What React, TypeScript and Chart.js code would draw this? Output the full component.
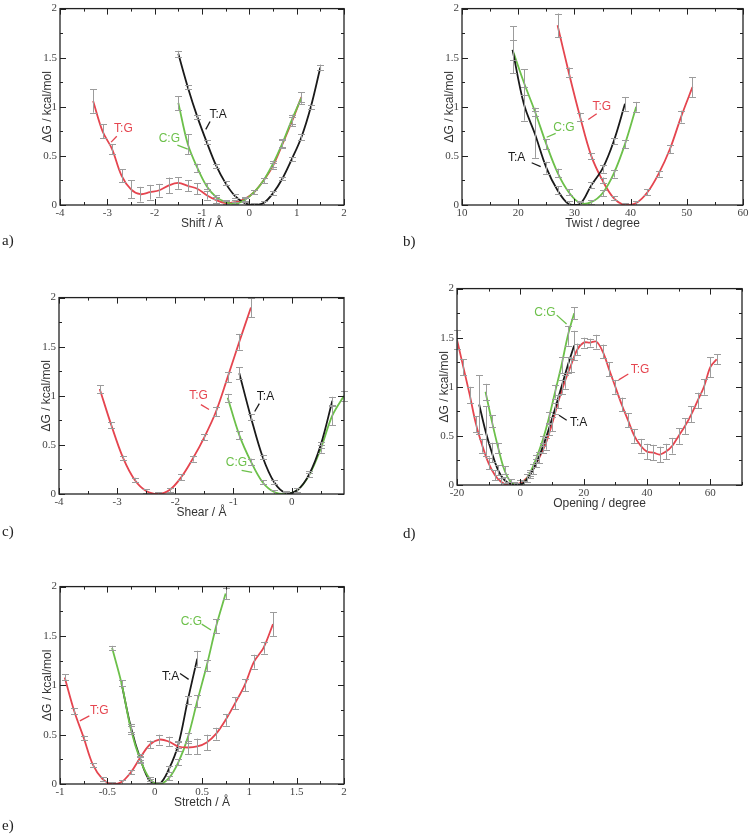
import React, { useEffect, useRef } from 'react';
import { Chart, registerables } from 'chart.js';

Chart.register(...registerables);

// ---------------- data ----------------
const yTicks = [0, 0.5, 1, 1.5, 2];
const aXTicks = [-4, -3, -2, -1, 0, 1, 2];
const bXTicks = [10, 20, 30, 40, 50, 60];
const cXTicks = [-4, -3, -2, -1, 0];
const dXTicks = [-20, 0, 20, 40, 60];
const eXTicks = [-1, -0.5, 0, 0.5, 1, 1.5, 2];

// a) Shift
const aTGx = [-3.3, -3.1, -2.9, -2.7, -2.5, -2.3, -2.1, -1.9, -1.7, -1.5, -1.3, -1.1, -0.9, -0.7, -0.5, -0.3, -0.1, 0.1, 0.3, 0.5, 0.7, 0.9, 1.1];
const aTGy = [1.06, 0.75, 0.57, 0.3, 0.16, 0.11, 0.13, 0.15, 0.2, 0.225, 0.195, 0.165, 0.1, 0.05, 0.02, 0.03, 0.06, 0.13, 0.25, 0.4, 0.62, 0.85, 1.1];
const aTGe = [0.12, 0.07, 0.05, 0.065, 0.09, 0.075, 0.075, 0.065, 0.08, 0.06, 0.055, 0.055, 0.045, 0.03, 0.02, 0.02, 0.02, 0.02, 0.03, 0.03, 0.04, 0.05, 0.05];
const aCGx = [-1.5, -1.3, -1.1, -0.9, -0.7, -0.5, -0.3, -0.1, 0.1, 0.3, 0.5, 0.7, 0.9, 1.1];
const aCGy = [1.04, 0.62, 0.38, 0.19, 0.08, 0.03, 0.01, 0.05, 0.13, 0.25, 0.42, 0.63, 0.87, 1.09];
const aCGe = [0.07, 0.1, 0.04, 0.03, 0.02, 0.02, 0.02, 0.02, 0.02, 0.03, 0.03, 0.04, 0.05, 0.06];
const aTAx = [-1.5, -1.3, -1.1, -0.9, -0.7, -0.5, -0.3, -0.1, 0.1, 0.3, 0.5, 0.7, 0.9, 1.1, 1.3, 1.5];
const aTAy = [1.54, 1.2, 0.9, 0.64, 0.4, 0.22, 0.09, 0.02, 0.0, 0.02, 0.12, 0.27, 0.47, 0.69, 1.0, 1.4];
const aTAe = [0.03, 0.02, 0.02, 0.02, 0.02, 0.02, 0.02, 0.02, 0.02, 0.02, 0.02, 0.02, 0.02, 0.03, 0.02, 0.03];

// b) Twist
const bTAx = [19, 21, 23, 25, 27, 29, 31, 33, 35, 37, 39];
const bTAy = [1.58, 1.03, 0.72, 0.38, 0.15, 0.01, 0.01, 0.2, 0.37, 0.65, 1.03];
const bTAe = [0.24, 0.17, 0.24, 0.06, 0.04, 0.03, 0.02, 0.03, 0.04, 0.03, 0.07];
const bCGx = [19, 21, 23, 25, 27, 29, 31, 33, 35, 37, 39, 41];
const bCGy = [1.58, 1.25, 0.95, 0.62, 0.33, 0.13, 0.02, 0.03, 0.12, 0.32, 0.62, 1.0];
const bCGe = [0.1, 0.13, 0.04, 0.05, 0.04, 0.03, 0.02, 0.02, 0.03, 0.04, 0.04, 0.05];
const bTGx = [27, 29, 31, 33, 35, 37, 39, 41, 43, 45, 47, 49, 51];
const bTGy = [1.83, 1.35, 0.9, 0.5, 0.25, 0.07, 0.0, 0.02, 0.13, 0.32, 0.57, 0.9, 1.2];
const bTGe = [0.12, 0.05, 0.04, 0.03, 0.03, 0.02, 0.02, 0.02, 0.03, 0.03, 0.04, 0.06, 0.1];

// c) Shear
const cTGx = [-3.3, -3.1, -2.9, -2.7, -2.5, -2.3, -2.1, -1.9, -1.7, -1.5, -1.3, -1.1, -0.9, -0.7];
const cTGy = [1.07, 0.7, 0.37, 0.145, 0.03, 0.0, 0.04, 0.17, 0.36, 0.58, 0.84, 1.19, 1.55, 1.9];
const cTGe = [0.04, 0.03, 0.02, 0.02, 0.02, 0.02, 0.02, 0.03, 0.03, 0.03, 0.05, 0.05, 0.08, 0.1];
const cTAx = [-0.9, -0.7, -0.5, -0.3, -0.1, 0.1, 0.3, 0.5, 0.7];
const cTAy = [1.23, 0.78, 0.38, 0.12, 0.01, 0.04, 0.2, 0.5, 0.95];
const cTAe = [0.06, 0.03, 0.02, 0.02, 0.02, 0.02, 0.03, 0.03, 0.04];
const cCGx = [-1.1, -0.9, -0.7, -0.5, -0.3, -0.1, 0.1, 0.3, 0.5, 0.7, 0.9];
const cCGy = [0.98, 0.6, 0.33, 0.12, 0.02, 0.0, 0.04, 0.19, 0.46, 0.8, 1.0];
const cCGe = [0.04, 0.04, 0.03, 0.02, 0.02, 0.02, 0.02, 0.02, 0.04, 0.1, 0.05];

// d) Opening
const dTGx = [-20, -18, -16, -14, -12, -10, -8, -6, -4, -2, 0, 2, 4, 6, 8, 10, 12, 14, 16, 18, 20, 22, 24, 26, 28, 30, 32, 34, 36, 38, 40, 42, 44, 46, 48, 50, 52, 54, 56, 58, 60, 62];
const dTGy = [1.48, 1.2, 0.92, 0.62, 0.4, 0.22, 0.1, 0.03, 0.0, 0.0, 0.02, 0.07, 0.16, 0.28, 0.42, 0.62, 0.85, 1.05, 1.22, 1.38, 1.45, 1.45, 1.46, 1.36, 1.18, 1.0, 0.82, 0.66, 0.5, 0.4, 0.34, 0.33, 0.31, 0.34, 0.4, 0.5, 0.6, 0.72, 0.86, 1.0, 1.2, 1.28];
const dTGe = [0.1, 0.08, 0.08, 0.08, 0.07, 0.06, 0.05, 0.04, 0.03, 0.03, 0.03, 0.04, 0.05, 0.06, 0.06, 0.07, 0.07, 0.07, 0.07, 0.06, 0.05, 0.04, 0.07, 0.07, 0.07, 0.07, 0.07, 0.07, 0.07, 0.07, 0.08, 0.08, 0.08, 0.08, 0.08, 0.08, 0.08, 0.08, 0.08, 0.08, 0.1, 0.05];
const dTAx = [-13, -11, -9, -7, -5, -3, -1, 1, 3, 5, 7, 9, 11, 13, 15, 17];
const dTAy = [0.82, 0.55, 0.33, 0.15, 0.05, 0.01, 0.0, 0.02, 0.1, 0.22, 0.38, 0.57, 0.78, 1.0, 1.22, 1.42];
const dTAe = [0.3, 0.25, 0.1, 0.05, 0.03, 0.02, 0.02, 0.02, 0.03, 0.04, 0.05, 0.06, 0.06, 0.07, 0.08, 0.15];
const dCGx = [-11, -9, -7, -5, -3, -1, 1, 3, 5, 7, 9, 11, 13, 15, 17];
const dCGy = [0.95, 0.65, 0.38, 0.15, 0.03, 0.0, 0.02, 0.12, 0.27, 0.45, 0.68, 0.95, 1.22, 1.52, 1.75];
const dCGe = [0.08, 0.06, 0.05, 0.04, 0.03, 0.02, 0.02, 0.03, 0.04, 0.05, 0.06, 0.07, 0.08, 0.1, 0.06];

// e) Stretch
const eTGx = [-0.95, -0.85, -0.75, -0.65, -0.55, -0.45, -0.35, -0.25, -0.15, -0.05, 0.05, 0.15, 0.25, 0.35, 0.45, 0.55, 0.65, 0.75, 0.85, 0.95, 1.05, 1.15, 1.25];
const eTGy = [1.08, 0.74, 0.47, 0.19, 0.05, 0.0, 0.02, 0.12, 0.27, 0.4, 0.45, 0.43, 0.38, 0.37, 0.38, 0.42, 0.51, 0.65, 0.82, 1.0, 1.24, 1.38, 1.62];
const eTGe = [0.03, 0.03, 0.02, 0.02, 0.02, 0.02, 0.02, 0.02, 0.03, 0.04, 0.05, 0.05, 0.05, 0.07, 0.08, 0.08, 0.06, 0.06, 0.06, 0.06, 0.07, 0.06, 0.12];
const eCGx = [-0.45, -0.35, -0.25, -0.15, -0.05, 0.05, 0.15, 0.25, 0.35, 0.45, 0.55, 0.65, 0.75];
const eCGy = [1.38, 1.02, 0.55, 0.24, 0.05, 0.0, 0.06, 0.22, 0.47, 0.84, 1.2, 1.6, 1.93];
const eCGe = [0.02, 0.03, 0.04, 0.03, 0.02, 0.02, 0.02, 0.03, 0.05, 0.06, 0.06, 0.07, 0.06];
const eTAx = [-0.35, -0.25, -0.15, -0.05, 0.05, 0.15, 0.25, 0.35, 0.45];
const eTAy = [1.02, 0.57, 0.25, 0.03, 0.0, 0.15, 0.4, 0.85, 1.27];
const eTAe = [0.03, 0.04, 0.03, 0.02, 0.02, 0.03, 0.04, 0.04, 0.08];

// ---------------- styles ----------------
const RED = '#e5454f';
const GREEN = '#6cc04a';
const BLACK = '#1a1a1a';
const ERRC = '#9c9c9c';
const SERIF = '"Liberation Serif", "DejaVu Serif", serif';
const SANS = '"Liberation Sans", Arial, sans-serif';

type Series = { color: string; x: number[]; y: number[]; e: number[] };
type Note = { text: string; color: string; x: number; y: number; l: [number, number, number, number] };
type PanelDef = {
  tag: string;
  tagPos: [number, number];
  box: [number, number, number, number];
  xTitle: string;
  xMin: number;
  xMax: number;
  xTicks: number[];
  series: Series[];
  notes: Note[];
};

const panels: PanelDef[] = [
  {
    tag: 'a)', tagPos: [2, 240], box: [60, 7, 344, 205], xTitle: 'Shift / Å', xMin: -4, xMax: 2, xTicks: aXTicks,
    series: [
      { color: GREEN, x: aCGx, y: aCGy, e: aCGe },
      { color: BLACK, x: aTAx, y: aTAy, e: aTAe },
      { color: RED, x: aTGx, y: aTGy, e: aTGe },
    ],
    notes: [
      { text: 'T:G', color: RED, x: -2.66, y: 0.78, l: [-2.8, 0.7, -2.92, 0.64] },
      { text: 'C:G', color: GREEN, x: -1.69, y: 0.68, l: [-1.52, 0.61, -1.3, 0.57] },
      { text: 'T:A', color: BLACK, x: -0.66, y: 0.92, l: [-0.83, 0.85, -0.92, 0.77] },
    ],
  },
  {
    tag: 'b)', tagPos: [403, 241], box: [462, 7, 743, 205], xTitle: 'Twist / degree', xMin: 10, xMax: 60, xTicks: bXTicks,
    series: [
      { color: BLACK, x: bTAx, y: bTAy, e: bTAe },
      { color: GREEN, x: bCGx, y: bCGy, e: bCGe },
      { color: RED, x: bTGx, y: bTGy, e: bTGe },
    ],
    notes: [
      { text: 'T:G', color: RED, x: 34.86, y: 1.0, l: [33.97, 0.93, 32.47, 0.87] },
      { text: 'C:G', color: GREEN, x: 28.15, y: 0.79, l: [26.67, 0.73, 25.07, 0.69] },
      { text: 'T:A', color: BLACK, x: 19.73, y: 0.48, l: [22.4, 0.43, 24.0, 0.39] },
    ],
  },
  {
    tag: 'c)', tagPos: [2, 531], box: [59, 296, 344, 494], xTitle: 'Shear / Å', xMin: -4, xMax: 0.9, xTicks: cXTicks,
    series: [
      { color: RED, x: cTGx, y: cTGy, e: cTGe },
      { color: BLACK, x: cTAx, y: cTAy, e: cTAe },
      { color: GREEN, x: cCGx, y: cCGy, e: cCGe },
    ],
    notes: [
      { text: 'T:G', color: RED, x: -1.6, y: 1.0, l: [-1.56, 0.91, -1.42, 0.86] },
      { text: 'T:A', color: BLACK, x: -0.45, y: 0.99, l: [-0.556, 0.92, -0.635, 0.84] },
      { text: 'C:G', color: GREEN, x: -0.95, y: 0.32, l: [-0.86, 0.24, -0.68, 0.22] },
    ],
  },
  {
    tag: 'd)', tagPos: [403, 533], box: [457, 287, 742, 485], xTitle: 'Opening / degree', xMin: -20, xMax: 70, xTicks: dXTicks,
    series: [
      { color: BLACK, x: dTAx, y: dTAy, e: dTAe },
      { color: GREEN, x: dCGx, y: dCGy, e: dCGe },
      { color: RED, x: dTGx, y: dTGy, e: dTGe },
    ],
    notes: [
      { text: 'C:G', color: GREEN, x: 7.8, y: 1.75, l: [11.5, 1.73, 14.6, 1.64] },
      { text: 'T:G', color: RED, x: 37.8, y: 1.17, l: [34.1, 1.13, 31.06, 1.07] },
      { text: 'T:A', color: BLACK, x: 18.4, y: 0.63, l: [14.64, 0.66, 12.2, 0.71] },
    ],
  },
  {
    tag: 'e)', tagPos: [2, 825], box: [60, 585, 344, 784], xTitle: 'Stretch / Å', xMin: -1, xMax: 2, xTicks: eXTicks,
    series: [
      { color: RED, x: eTGx, y: eTGy, e: eTGe },
      { color: GREEN, x: eCGx, y: eCGy, e: eCGe },
      { color: BLACK, x: eTAx, y: eTAy, e: eTAe },
    ],
    notes: [
      { text: 'T:G', color: RED, x: -0.585, y: 0.74, l: [-0.69, 0.69, -0.79, 0.64] },
      { text: 'C:G', color: GREEN, x: 0.387, y: 1.645, l: [0.497, 1.62, 0.595, 1.56] },
      { text: 'T:A', color: BLACK, x: 0.169, y: 1.09, l: [0.268, 1.12, 0.359, 1.06] },
    ],
  },
];

const PAD_L = 50;
const PAD_T = 8;
const PAD_R = 8;
const PAD_B = 40;

function fmt(v: number): string {
  return String(Math.round(v * 100) / 100);
}

function PanelChart({ p }: { p: PanelDef }) {
  const ref = useRef<HTMLCanvasElement | null>(null);
  const [L, T, R, B] = p.box;
  const w = R - L + PAD_L + PAD_R;
  const h = B - T + PAD_T + PAD_B;

  useEffect(() => {
    if (!ref.current) return;
    const deco = {
      id: 'deco' + p.tag,
      afterDatasetsDraw(chart: any) {
        const ctx = chart.ctx as CanvasRenderingContext2D;
        const xs = chart.scales.x;
        const ys = chart.scales.y;
        const { left, right, top, bottom } = chart.chartArea;
        ctx.save();
        // error bars
        ctx.strokeStyle = ERRC;
        ctx.lineWidth = 1;
        p.series.forEach((s) => {
          s.x.forEach((xv, i) => {
            const px = Math.round(xs.getPixelForValue(xv)) + 0.5;
            const y1 = ys.getPixelForValue(Math.max(0, s.y[i] - s.e[i]));
            const y2 = ys.getPixelForValue(s.y[i] + s.e[i]);
            ctx.beginPath();
            ctx.moveTo(px, y1);
            ctx.lineTo(px, y2);
            ctx.moveTo(px - 3.5, Math.round(y2) + 0.5);
            ctx.lineTo(px + 3.5, Math.round(y2) + 0.5);
            if (s.y[i] - s.e[i] > 0) {
              ctx.moveTo(px - 3.5, Math.round(y1) + 0.5);
              ctx.lineTo(px + 3.5, Math.round(y1) + 0.5);
            }
            ctx.stroke();
          });
        });
        // frame
        ctx.strokeStyle = '#222';
        ctx.lineWidth = 1.3;
        ctx.strokeRect(left, top, right - left, bottom - top);
        // ticks
        ctx.lineWidth = 1;
        const xStep = p.xTicks[1] - p.xTicks[0];
        const xMinor: number[] = [];
        for (let v = p.xTicks[0] - xStep / 2; v <= p.xMax + 1e-9; v += xStep / 2) {
          if (v >= p.xMin - 1e-9) xMinor.push(v);
        }
        ctx.beginPath();
        xMinor.forEach((v) => {
          const isMajor = p.xTicks.some((t) => Math.abs(t - v) < 1e-6);
          const len = isMajor ? 6 : 3;
          const px = Math.round(xs.getPixelForValue(v)) + 0.5;
          ctx.moveTo(px, bottom);
          ctx.lineTo(px, bottom - len);
          ctx.moveTo(px, top);
          ctx.lineTo(px, top + len);
        });
        for (let v = 0; v <= 2 + 1e-9; v += 0.25) {
          const isMajor = yTicks.some((t) => Math.abs(t - v) < 1e-6);
          const len = isMajor ? 6 : 3;
          const py = Math.round(ys.getPixelForValue(v)) + 0.5;
          ctx.moveTo(left, py);
          ctx.lineTo(left + len, py);
          ctx.moveTo(right, py);
          ctx.lineTo(right - len, py);
        }
        ctx.stroke();
        // notes
        ctx.font = '12px ' + SANS;
        ctx.textAlign = 'center';
        ctx.textBaseline = 'middle';
        p.notes.forEach((n) => {
          ctx.fillStyle = n.color;
          ctx.fillText(n.text, xs.getPixelForValue(n.x), ys.getPixelForValue(n.y));
          ctx.strokeStyle = n.color;
          ctx.lineWidth = 1.3;
          ctx.beginPath();
          ctx.moveTo(xs.getPixelForValue(n.l[0]), ys.getPixelForValue(n.l[1]));
          ctx.lineTo(xs.getPixelForValue(n.l[2]), ys.getPixelForValue(n.l[3]));
          ctx.stroke();
        });
        ctx.restore();
      },
    };

    const chart = new Chart(ref.current, {
      type: 'line',
      data: {
        datasets: p.series.map((s) => ({
          data: s.x.map((xv, i) => ({ x: xv, y: s.y[i] })),
          borderColor: s.color,
          borderWidth: 1.8,
          pointRadius: 0,
          tension: 0.35,
          fill: false,
        })),
      },
      options: {
        responsive: false,
        animation: false,
        devicePixelRatio: 1,
        layout: { padding: { left: 0, top: PAD_T, right: PAD_R, bottom: 0 } },
        plugins: { legend: { display: false }, tooltip: { enabled: false } },
        scales: {
          x: {
            type: 'linear',
            min: p.xMin,
            max: p.xMax,
            afterBuildTicks: (sc: any) => {
              sc.ticks = p.xTicks.map((v) => ({ value: v }));
            },
            afterFit: (sc: any) => {
              sc.height = PAD_B;
            },
            ticks: {
              autoSkip: false,
              maxRotation: 0,
              padding: 2,
              color: '#444',
              font: { family: SERIF, size: 11 },
              callback: (v: any) => fmt(Number(v)),
            },
            grid: { display: false, drawTicks: false },
            border: { display: false },
            title: {
              display: true,
              text: p.xTitle,
              color: '#333',
              font: { family: SANS, size: 12 },
              padding: { top: 0, bottom: 14 },
            },
          },
          y: {
            type: 'linear',
            min: 0,
            max: 2,
            afterBuildTicks: (sc: any) => {
              sc.ticks = yTicks.map((v) => ({ value: v }));
            },
            afterFit: (sc: any) => {
              sc.width = PAD_L;
            },
            ticks: {
              autoSkip: false,
              padding: 3,
              color: '#444',
              font: { family: SERIF, size: 11 },
              callback: (v: any) => fmt(Number(v)),
            },
            grid: { display: false, drawTicks: false },
            border: { display: false },
            title: {
              display: true,
              text: 'ΔG / kcal/mol',
              color: '#333',
              font: { family: SANS, size: 12 },
              padding: { top: 30, bottom: 0 },
            },
          },
        },
      } as any,
      plugins: [deco],
    });
    return () => chart.destroy();
  }, []);

  return (
    <canvas
      ref={ref}
      width={w}
      height={h}
      style={{ position: 'absolute', left: L - PAD_L, top: T - PAD_T, width: w, height: h, display: 'block' }}
    />
  );
}

export default function App() {
  return (
    <div style={{ position: 'fixed', left: 0, top: 0, width: 755, height: 836, background: '#fff', overflow: 'hidden' }}>
      {panels.map((p) => (
        <React.Fragment key={p.tag}>
          <PanelChart p={p} />
          <div
            style={{
              position: 'absolute',
              left: p.tagPos[0],
              top: p.tagPos[1] - 9,
              font: '15px ' + SERIF,
              lineHeight: '18px',
              color: '#222',
            }}
          >
            {p.tag}
          </div>
        </React.Fragment>
      ))}
    </div>
  );
}
